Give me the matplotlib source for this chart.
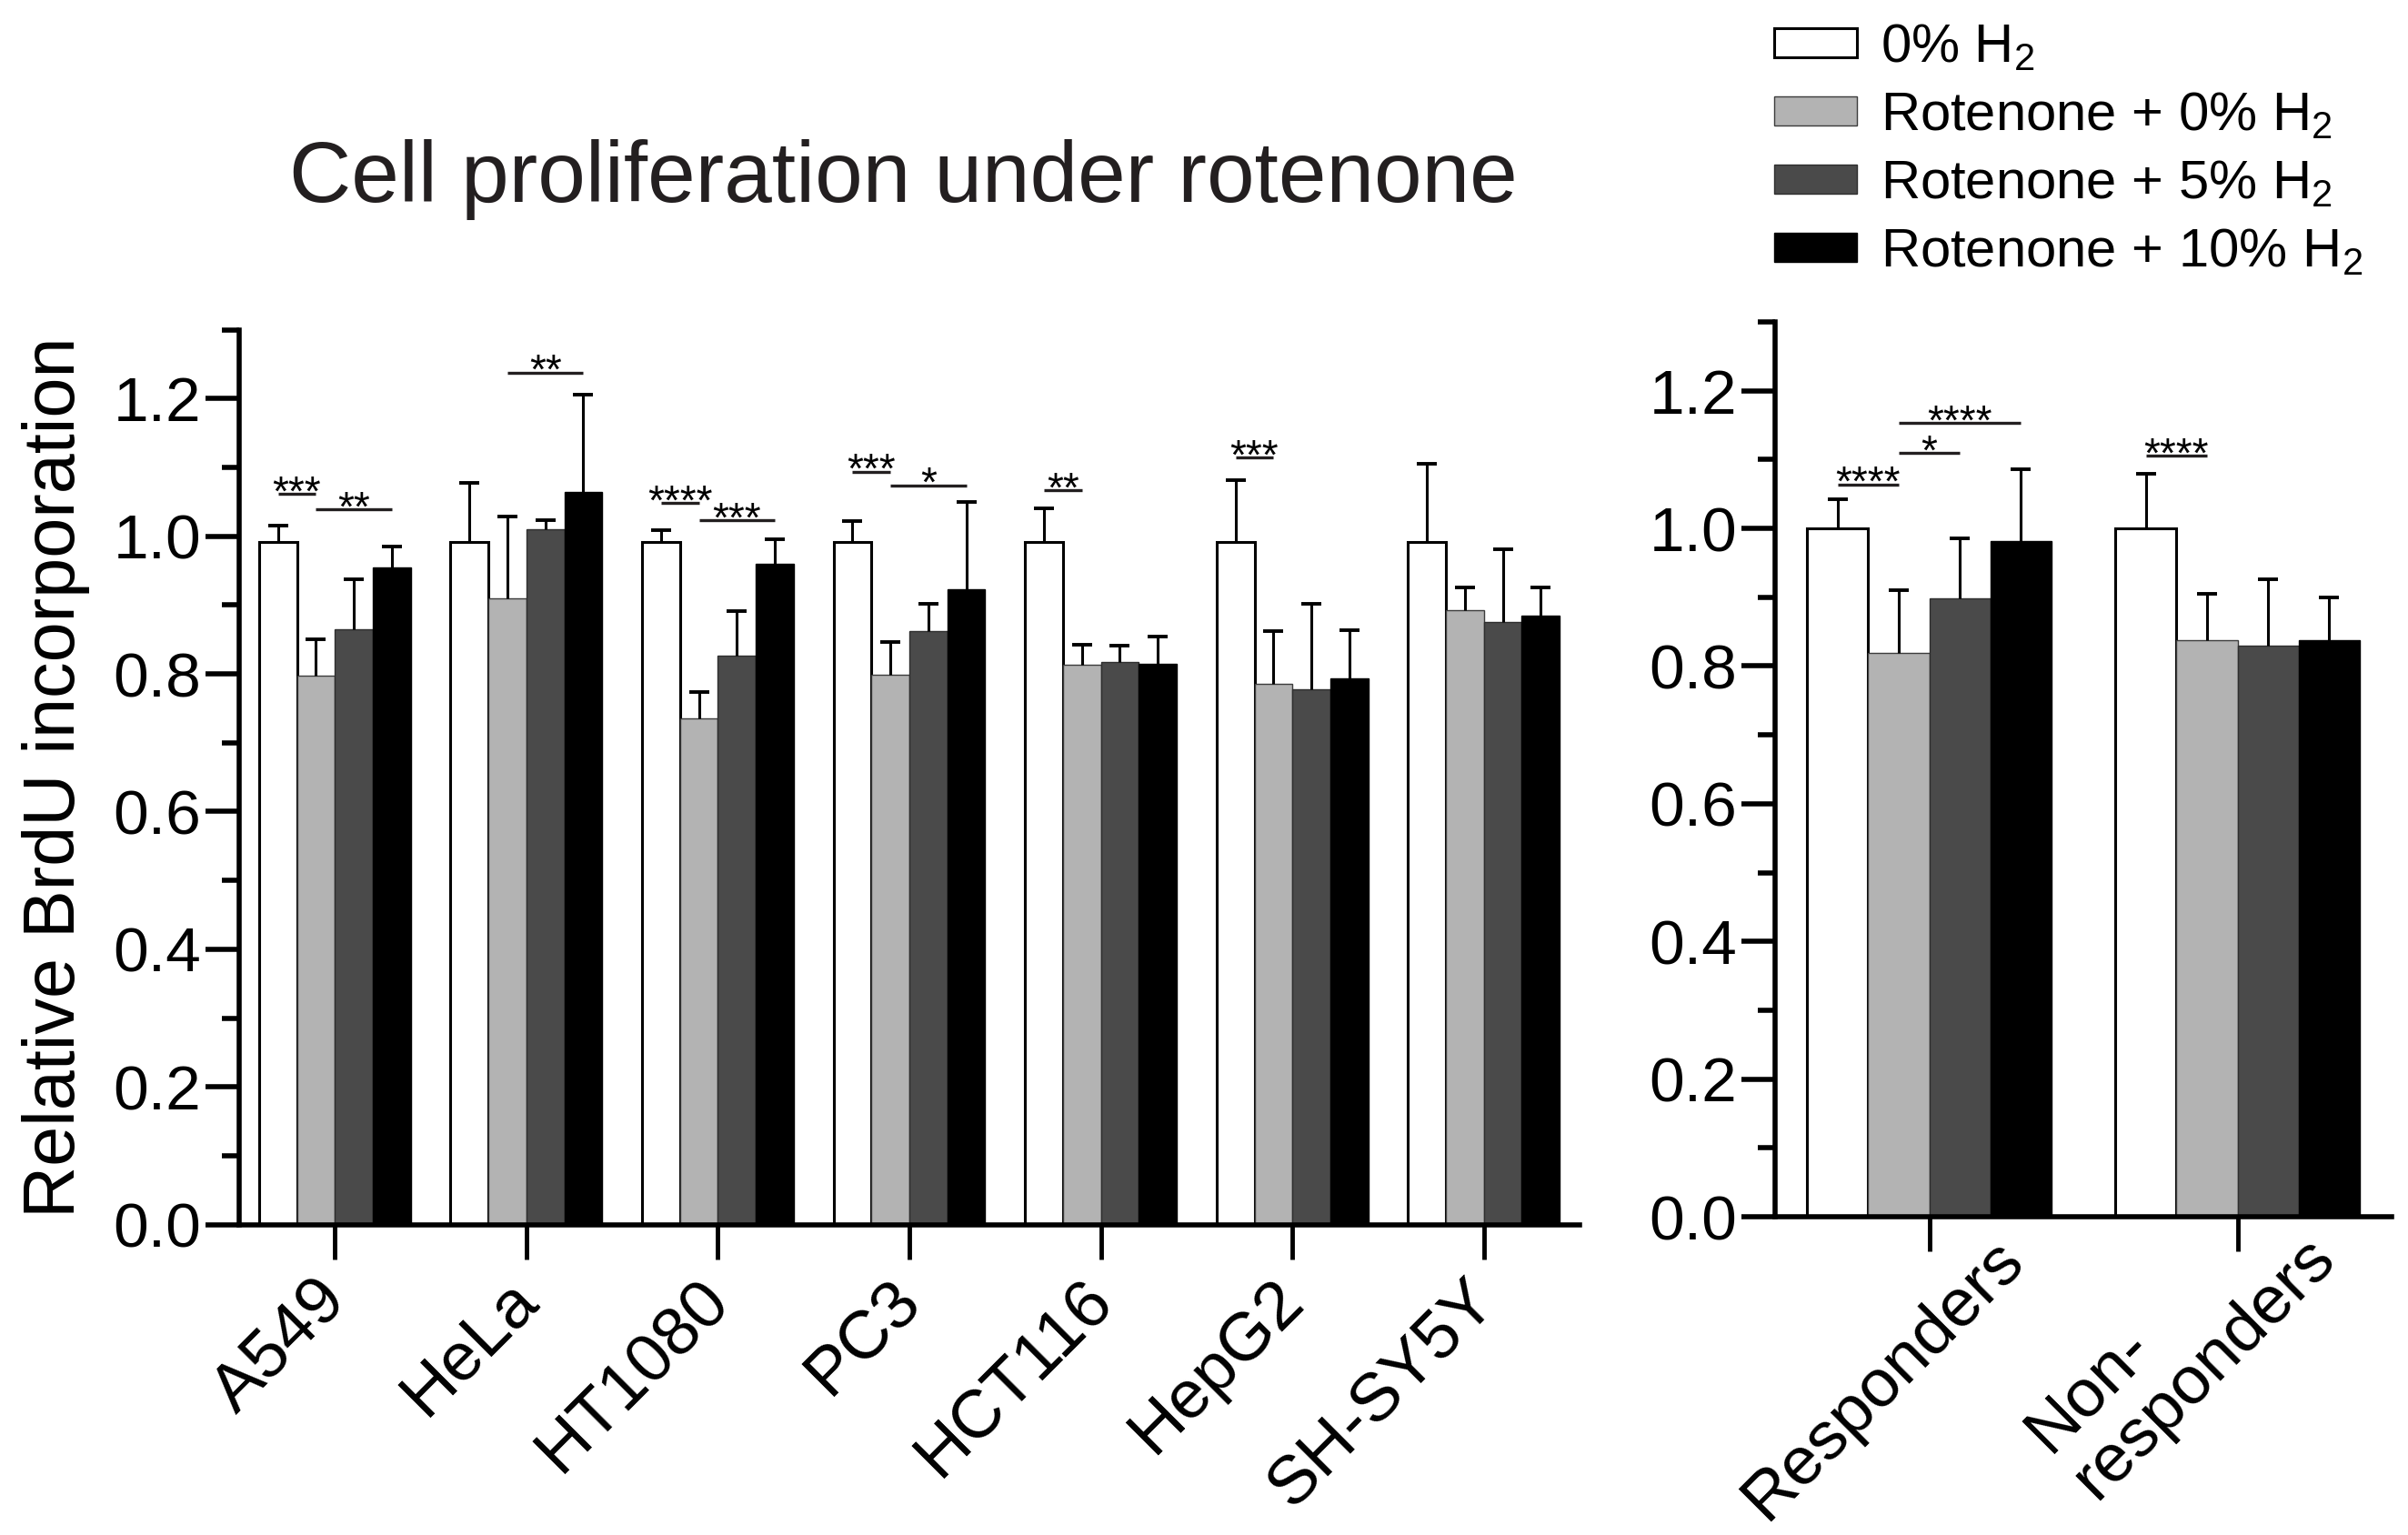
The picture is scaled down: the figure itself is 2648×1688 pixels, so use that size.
import numpy as np
import matplotlib
matplotlib.use("Agg")
import matplotlib.pyplot as plt
from matplotlib.transforms import ScaledTranslation

plt.rcParams['font.family'] = ['Liberation Sans', 'DejaVu Sans']
plt.rcParams['mathtext.fontset'] = 'custom'
plt.rcParams['mathtext.rm'] = 'Liberation Sans'
plt.rcParams['mathtext.it'] = 'Liberation Sans:italic'
plt.rcParams['mathtext.bf'] = 'Liberation Sans:bold'

cell_lines = ["A549", "HeLa", "HT1080", "PC3", "HCT116", "HepG2", "SH-SY5Y"]
groups = ["Responders", "Non-\nresponders"]
series = ["0% H$_2$", "Rotenone + 0% H$_2$", "Rotenone + 5% H$_2$", "Rotenone + 10% H$_2$"]

# mean per series (rows) and cell line (columns)
cell_mean = [
    [0.992, 0.992, 0.992, 0.992, 0.992, 0.992, 0.992],
    [0.798, 0.910, 0.736, 0.799, 0.813, 0.785, 0.893],
    [0.865, 1.010, 0.826, 0.862, 0.817, 0.777, 0.876],
    [0.955, 1.064, 0.960, 0.923, 0.814, 0.794, 0.885],
]
# upper end of the error bar
cell_top = [
    [1.016, 1.077, 1.009, 1.022, 1.040, 1.082, 1.105],
    [0.850, 1.029, 0.774, 0.846, 0.843, 0.862, 0.925],
    [0.937, 1.024, 0.891, 0.902, 0.841, 0.902, 0.981],
    [0.985, 1.206, 0.995, 1.050, 0.854, 0.863, 0.925],
]
group_mean = [
    [1.000, 1.000],
    [0.819, 0.837],
    [0.898, 0.830],
    [0.982, 0.837],
]
group_top = [
    [1.042, 1.079],
    [0.910, 0.905],
    [0.985, 0.926],
    [1.086, 0.900],
]

# (category, from bar, to bar, stars, height)
cell_sig = [
    (0, 0, 1, "***", 1.062),
    (0, 1, 3, "**", 1.039),
    (1, 1, 3, "**", 1.238),
    (2, 0, 1, "****", 1.048),
    (2, 1, 3, "***", 1.023),
    (3, 0, 1, "***", 1.094),
    (3, 1, 3, "*", 1.074),
    (4, 0, 1, "**", 1.067),
    (5, 0, 1, "***", 1.114),
]
group_sig = [
    (0, 0, 1, "****", 1.064),
    (0, 1, 2, "*", 1.110),
    (0, 1, 3, "****", 1.153),
    (1, 0, 1, "****", 1.106),
]

colors = ["#ffffff", "#b3b3b3", "#4a4a4a", "#000000"]
edges = ["#000000", "#3c3c3c", "#2e2e2e", "#000000"]
edge_w = [2.2, 1.0, 1.0, 1.0]
W = 0.198


def draw_panel(ax, labels, means, tops, sigs, ha):
    x = np.arange(len(labels))
    handles = []
    for i in range(4):
        pos = x + (i - 1.5) * W
        m = np.array(means[i])
        up = np.array(tops[i]) - m
        b = ax.bar(pos, m, W, color=colors[i], edgecolor=edges[i],
                   linewidth=edge_w[i], zorder=2)
        handles.append(b)
        eb = ax.errorbar(pos, m, yerr=[np.zeros_like(up), up], fmt='none',
                         ecolor='black', elinewidth=2.2, capsize=8,
                         capthick=2.8, zorder=3)
        for cl in eb[1]:
            if np.allclose(cl.get_ydata(), m):
                cl.set_visible(False)
    for g, a, b2, stars, h in sigs:
        x0 = g + (a - 1.5) * W
        x1 = g + (b2 - 1.5) * W
        ax.plot([x0, x1], [h, h], color="#231f20", lw=2.4,
                solid_capstyle='butt', zorder=4)
        ax.annotate(stars, xy=((x0 + x1) / 2, h), xytext=(0, -9),
                    textcoords='offset points', ha='center', va='baseline',
                    fontsize=33)
    ax.set_xlim(-0.5, len(labels) - 0.5)
    ax.set_ylim(0, 1.3)
    ax.set_yticks(np.arange(0, 1.21, 0.2))
    ax.set_yticks(np.arange(0.1, 1.31, 0.2), minor=True)
    ax.set_yticklabels([f"{v:.1f}" for v in np.arange(0, 1.21, 0.2)])
    ax.set_xticks(x)
    ax.set_xticklabels(labels, rotation=45, ha=ha, va='baseline',
                       rotation_mode='anchor')
    for s in ['top', 'right']:
        ax.spines[s].set_visible(False)
    for s in ['left', 'bottom']:
        ax.spines[s].set_linewidth(4)
    ax.tick_params(axis='y', which='major', length=27, width=4,
                   labelsize=50, pad=3)
    ax.tick_params(axis='y', which='minor', length=14, width=4)
    ax.tick_params(axis='x', which='major', length=27, width=3.5,
                   labelsize=54, pad=0)
    return handles


def shift_labels(ax, offsets):
    # offsets in inches from the bottom of each tick
    for lab, (dx, dy) in zip(ax.get_xticklabels(), offsets):
        lab.set_transform(lab.get_transform() +
                          ScaledTranslation(dx, dy, fig.dpi_scale_trans))


fig = plt.figure(figsize=(26.48, 16.88), dpi=100)
ax1 = fig.add_axes([0.0993, 0.2022, 0.5567, 0.583])
ax2 = fig.add_axes([0.7372, 0.2073, 0.2560, 0.583])

handles = draw_panel(ax1, cell_lines, cell_mean, cell_top, cell_sig, 'right')
draw_panel(ax2, groups, group_mean, group_top, group_sig, 'left')
ax2.get_xticklabels()[1].set_linespacing(1.08)

shift_labels(ax1, [(0.15, -0.48)] * len(cell_lines))
shift_labels(ax2, [(-1.795, -2.975), (-1.585, -2.715)])

ax1.set_ylabel("Relative BrdU incorporation", fontsize=57)
ax1.yaxis.set_label_coords(-0.111, 0.5)

fig.text(0.375, 0.8685, "Cell proliferation under rotenone", fontsize=68,
         ha='center', va='baseline', color="#231f20")

fig.legend(handles, series, loc='upper left', bbox_to_anchor=(0.7368, 0.985),
           frameon=False, fontsize=43, handlelength=1.53, handleheight=0.45,
           handletextpad=0.42, labelspacing=0.33, borderpad=0, borderaxespad=0)

fig.savefig("out.png", dpi=100)
